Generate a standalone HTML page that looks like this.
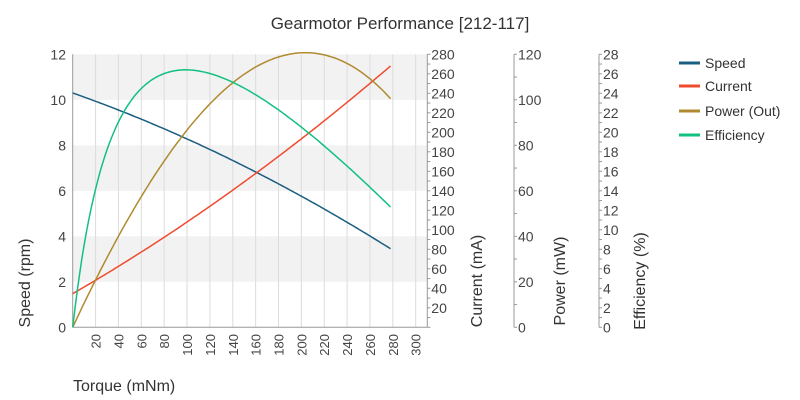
<!DOCTYPE html>
<html><head><meta charset="utf-8"><style>
body{margin:0;background:#fff}
svg{display:block;font-family:"Liberation Sans",sans-serif}
</style></head><body>
<svg id="s" width="800" height="400" xmlns="http://www.w3.org/2000/svg">
<text x="400" y="29" text-anchor="middle" font-size="17" fill="#333">Gearmotor Performance [212-117]</text>
<g id="g"></g>
<text transform="translate(30,283) rotate(-90)" text-anchor="middle" font-size="16" fill="#333">Speed (rpm)</text>
<text transform="translate(482,281) rotate(-90)" text-anchor="middle" font-size="16" fill="#333">Current (mA)</text>
<text transform="translate(565,281) rotate(-90)" text-anchor="middle" font-size="16" fill="#333">Power (mW)</text>
<text transform="translate(645,281) rotate(-90)" text-anchor="middle" font-size="16" fill="#333">Efficiency (%)</text>
<text x="73" y="391" font-size="16" fill="#333">Torque (mNm)</text>
<g font-size="14" fill="#333">
<line x1="679" y1="63" x2="700" y2="63" stroke="#1a5e80" stroke-width="3"/><text x="705" y="68">Speed</text>
<line x1="679" y1="86" x2="700" y2="86" stroke="#f04a2f" stroke-width="3"/><text x="705" y="91">Current</text>
<line x1="679" y1="111" x2="700" y2="111" stroke="#b08a2e" stroke-width="3"/><text x="705" y="116">Power (Out)</text>
<line x1="679" y1="135" x2="700" y2="135" stroke="#12c080" stroke-width="3"/><text x="705" y="140">Efficiency</text>
</g>
</svg>
<script>
var X0=72.7,XS=1.1433,Y0=327.3,YT=54.3,H=Y0-YT,R=427.3;
function X(t){return X0+t*XS}
var o='';
[[10,12],[6,8],[2,4]].forEach(function(b){o+='<rect x="'+X0+'" y="'+(Y0-b[1]/12*H)+'" width="'+(R-X0)+'" height="'+(2/12*H)+'" fill="#f2f2f2"/>';});
for(var t=20;t<=300;t+=20){o+='<line x1="'+X(t)+'" y1="'+YT+'" x2="'+X(t)+'" y2="'+Y0+'" stroke="#dcdcdc"/>';
o+='<text transform="translate('+(X(t)+5)+',334) rotate(-90)" text-anchor="end" font-size="13" fill="#444">'+t+'</text>';}
o+='<line x1="'+X0+'" y1="'+YT+'" x2="'+X0+'" y2="'+Y0+'" stroke="#999"/>';
o+='<line x1="'+X0+'" y1="'+Y0+'" x2="'+R+'" y2="'+Y0+'" stroke="#999"/>';
for(var v=0;v<=12;v+=2)o+='<text x="66" y="'+(Y0-v/12*H+5)+'" text-anchor="end" font-size="14" fill="#444">'+v+'</text>';
function axis(ax,max,step,minor,zero){o+='<line x1="'+ax+'" y1="'+YT+'" x2="'+ax+'" y2="'+Y0+'" stroke="#999"/>';
for(var v=0;v<=max;v+=minor){var y=Y0-v/max*H;o+='<line x1="'+ax+'" y1="'+y+'" x2="'+(ax+3)+'" y2="'+y+'" stroke="#999"/>';}
for(var v=(zero?0:step);v<=max;v+=step){var y=Y0-v/max*H;o+='<text x="'+(ax+4)+'" y="'+(y+5)+'" font-size="14" fill="#444">'+v+'</text>';}}
axis(R,280,20,10,false);axis(514,120,20,10,true);axis(599,28,2,1,true);
function sp(t){return 10.3-0.01771*t-2.49e-5*t*t}
function cu(t){return 34.5+0.676*t+5.9e-4*t*t}
function pw(t){return 0.1047*t*sp(t)}
function ef(t){return t==0?0:pw(t)/(3.04*cu(t))*100}
function path(f,max,c){var d='';for(var t=0;t<=278;t+=2){d+=(t?'L':'M')+X(t).toFixed(1)+','+(Y0-f(t)/max*H).toFixed(1);}
o+='<path d="'+d+'" fill="none" stroke="'+c+'" stroke-width="1.5"/>';}
path(sp,12,'#1a5e80');path(cu,280,'#f04a2f');path(pw,120,'#b08a2e');path(ef,28,'#12c080');
document.getElementById('g').innerHTML=o;
</script>
</body></html>
